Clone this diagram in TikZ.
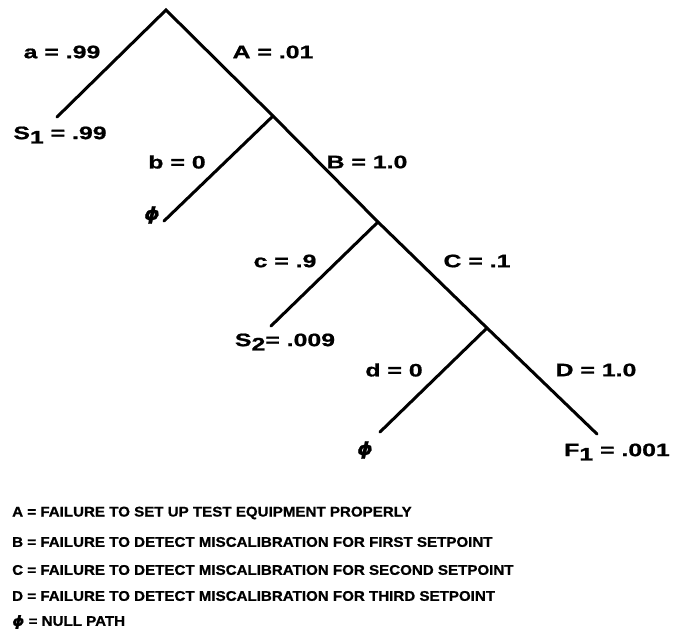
\documentclass[tikz,border=0pt]{standalone}
\usepackage{fontspec}
\setmainfont{Liberation Sans}
\newfontfamily\lblfont[FakeStretch=1.38,FakeBold=1]{Liberation Sans Bold}
\newfontfamily\legfont[FakeStretch=1.08,FakeBold=1]{Liberation Sans Bold}
\newfontfamily\phifont[FakeStretch=1.1,FakeBold=1]{DejaVu Sans Bold Oblique}
\newcommand{\phisym}{{\phifont ϕ}}
\newcommand{\sub}[1]{\raisebox{-0.45ex}{#1}}
\begin{document}
\begin{tikzpicture}[x=1pt,y=-1pt,
  br/.style={line width=3pt,line cap=round},
  lbl/.style={font=\lblfont\fontsize{18}{20}\selectfont,inner sep=0pt},
  leg/.style={font=\legfont\fontsize{14}{16}\selectfont,inner sep=0pt,anchor=west}]
\useasboundingbox (0,0) rectangle (673,632);
% tree junctions
\coordinate (top) at (166,10);
\coordinate (s1) at (57,117);
\coordinate (n1) at (273,116);
\coordinate (p1) at (164,221);
\coordinate (n2) at (378,222);
\coordinate (s2) at (271,326);
\coordinate (n3) at (487,328);
\coordinate (p2) at (380,432);
\coordinate (f1) at (597,434);
\draw[br] (s1) -- (top) -- (n1) -- (n2) -- (n3) -- (f1);
\draw[br] (n1) -- (p1);
\draw[br] (n2) -- (s2);
\draw[br] (n3) -- (p2);
% labels
\node[lbl] (la) at (62,52) {a = .99};
\node[lbl] (lA) at (273,52) {A = .01};
\node[lbl] (lS1) at (60,135) {S\sub{1} = .99};
\node[lbl] (lb) at (177,162) {b = 0};
\node[lbl] (lB) at (367,162) {B = 1.0};
\node[lbl] (phi1) at (152,215) {\phisym};
\node[lbl] (lc) at (285,261) {c = .9};
\node[lbl] (lC) at (477,261) {C = .1};
\node[lbl] (lS2) at (285,342) {S\sub{2}= .009};
\node[lbl] (ld) at (394,370) {d = 0};
\node[lbl] (lD) at (596,370) {D = 1.0};
\node[lbl] (phi2) at (365,450) {\phisym};
\node[lbl] (lF1) at (617,452) {F\sub{1} = .001};
% legend
\node[leg] (g1) at (12,513) {A = FAILURE TO SET UP TEST EQUIPMENT PROPERLY};
\node[leg] (g2) at (12,542) {B = FAILURE TO DETECT MISCALIBRATION FOR FIRST SETPOINT};
\node[leg] (g3) at (12,570) {C = FAILURE TO DETECT MISCALIBRATION FOR SECOND SETPOINT};
\node[leg] (g4) at (12,596) {D = FAILURE TO DETECT MISCALIBRATION FOR THIRD SETPOINT};
\node[leg] (g5) at (12,622) {\phisym{} = NULL PATH};
\end{tikzpicture}
\end{document}
